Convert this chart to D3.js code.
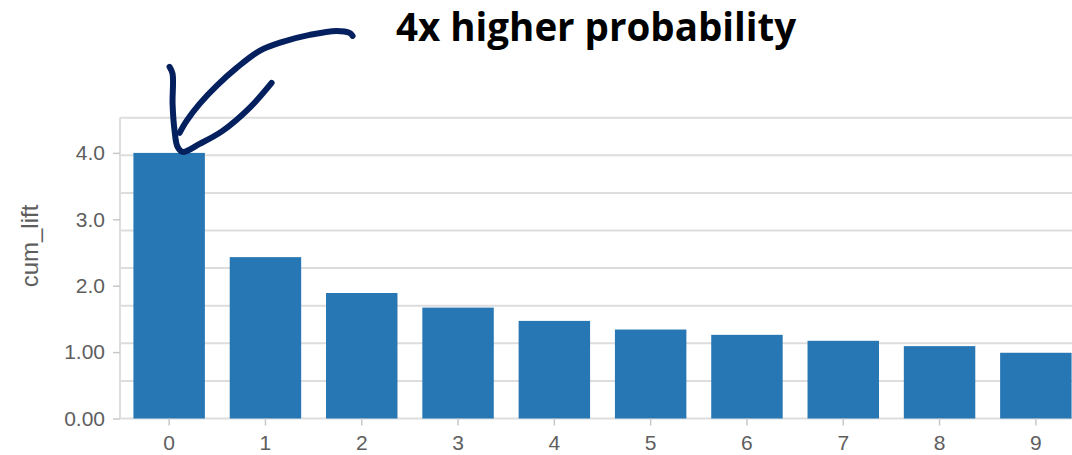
<!DOCTYPE html>
<html>
<head>
<meta charset="utf-8">
<script src="https://cdn.jsdelivr.net/npm/d3@7"></script>
<style>
  html, body { margin: 0; padding: 0; background: #fff; }
  svg { display: block; }
</style>
</head>
<body>
<svg id="chart" width="1072" height="455"></svg>
<script>
// Cumulative lift per decile
const categories = ["0", "1", "2", "3", "4", "5", "6", "7", "8", "9"];
const cumLift = [4.0, 2.43, 1.89, 1.67, 1.47, 1.34, 1.26, 1.17, 1.09, 0.99];
const yTickValues = [0, 1, 2, 3, 4];
const yTickLabels = ["0.00", "1.00", "2.0", "3.0", "4.0"];
const yAxisTitle = "cum_lift";
const headline = "4x higher probability";

const svg = d3.select("#chart");
const W = 1072;

const plotLeft = 120, plotBottom = 418.5, plotTop = 117.7;
const yMax = 4.53;

const x = d3.scaleBand()
  .domain(categories)
  .range([121, 1084])
  .paddingInner(0.258)
  .paddingOuter(0.129);

const y = d3.scaleLinear()
  .domain([0, yMax])
  .range([plotBottom, plotTop]);

// horizontal grid: 8 equal bands over the plot height
const gridValues = d3.range(9).map(i => i * yMax / 8);
svg.append("g")
  .selectAll("line")
  .data(gridValues)
  .join("line")
  .attr("x1", plotLeft).attr("x2", W)
  .attr("y1", d => y(d)).attr("y2", d => y(d))
  .attr("stroke", "#dddddd")
  .attr("stroke-width", 2);

// left frame line
svg.append("line")
  .attr("x1", plotLeft).attr("x2", plotLeft)
  .attr("y1", plotTop).attr("y2", plotBottom)
  .attr("stroke", "#dddddd")
  .attr("stroke-width", 2);

// bars
svg.append("g")
  .selectAll("rect")
  .data(cumLift)
  .join("rect")
  .attr("x", (d, i) => x(categories[i]))
  .attr("width", x.bandwidth())
  .attr("y", d => y(d))
  .attr("height", d => y(0) - y(d))
  .attr("fill", "#2677b3");

// y axis
const yAxis = svg.append("g")
  .attr("transform", `translate(${plotLeft},0)`)
  .call(d3.axisLeft(y)
    .tickValues(yTickValues)
    .tickFormat((d, i) => yTickLabels[i])
    .tickSize(7)
    .tickPadding(8));
yAxis.select(".domain").remove();
yAxis.selectAll(".tick line").attr("stroke", "#c8c8c8").attr("stroke-width", 1.5);
yAxis.selectAll(".tick text")
  .attr("fill", "#5e5e5e")
  .style("font-family", "'Liberation Sans', Arial, sans-serif")
  .style("font-size", "21px");

// x axis
const xAxis = svg.append("g")
  .attr("transform", `translate(0,${plotBottom})`)
  .call(d3.axisBottom(x).tickSize(7).tickPadding(9.5));
xAxis.select(".domain").remove();
xAxis.selectAll(".tick line").attr("stroke", "#c8c8c8").attr("stroke-width", 1.5);
xAxis.selectAll(".tick text")
  .attr("fill", "#5e5e5e")
  .style("font-family", "'Liberation Sans', Arial, sans-serif")
  .style("font-size", "21px");

// y axis title
svg.append("text")
  .attr("transform", "translate(38,246) rotate(-90)")
  .attr("text-anchor", "middle")
  .attr("fill", "#5e5e5e")
  .style("font-family", "'Liberation Sans', Arial, sans-serif")
  .style("font-size", "24px")
  .text(yAxisTitle);

// headline
svg.append("text")
  .attr("x", 396)
  .attr("y", 41)
  .attr("fill", "#000")
  .style("font-family", "'Open Sans', Lato, sans-serif")
  .style("font-weight", "bold")
  .style("font-size", "38.5px")
  .text(headline);

// hand-drawn arrow pointing at the top of the first bar
const tipX = x(categories[0]) + x.bandwidth() * 0.66;
const tipY = y(cumLift[0]) - 1;
const pen = d3.line().curve(d3.curveCatmullRom.alpha(0.5))
  .x(p => tipX + p[0]).y(p => tipY + p[1]);

const shaft = [[172, -116], [169, -119], [156, -121], [129, -117], [102, -110],
  [79, -101], [56, -84], [36, -66], [19, -48], [6, -31], [-1, -19]];
const head = [[-11, -85], [-8, -78], [-8, -48], [-6, -21], [-3, -5], [2, 0],
  [19, -8], [42, -21], [69, -44], [91, -69]];

const arrow = svg.append("g")
  .attr("fill", "none")
  .attr("stroke", "#05205e")
  .attr("stroke-width", 6)
  .attr("stroke-linecap", "round")
  .attr("stroke-linejoin", "round");
arrow.append("path").attr("d", pen(shaft));
arrow.append("path").attr("d", pen(head));
</script>
</body>
</html>
